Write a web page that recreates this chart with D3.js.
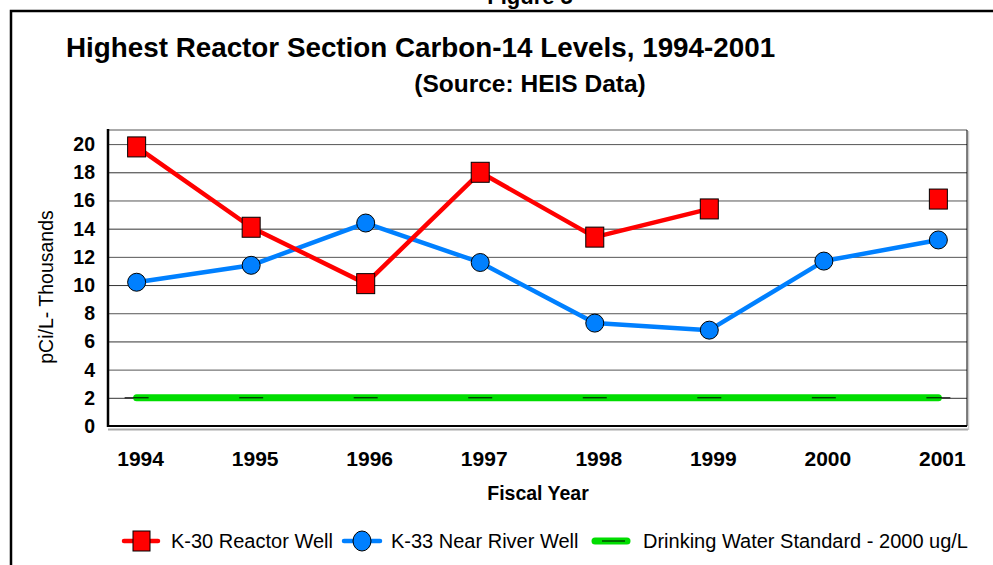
<!DOCTYPE html>
<html>
<head>
<meta charset="utf-8">
<script src="https://cdn.jsdelivr.net/npm/d3@7"></script>
<style>
  body { margin: 0; background: #fff; }
  svg { display: block; font-family: Arial, "Liberation Sans", sans-serif; }
</style>
</head>
<body>
<svg width="993" height="565"></svg>
<script>
// values, thousands of pCi/L
const years = ['1994', '1995', '1996', '1997', '1998', '1999', '2000', '2001'];
const k30 = [19.8, 14.1, 10.1, 18.0, 13.4, 15.4, null, 16.1];
const k33 = [10.2, 11.4, 14.4, 11.6, 7.3, 6.8, 11.7, 13.2];
const standard = [2, 2, 2, 2, 2, 2, 2, 2];
const yTicks = [0, 2, 4, 6, 8, 10, 12, 14, 16, 18, 20];

const width = 993;
const height = 565;
const plotLeft = 108, plotRight = 967, plotTop = 130, plotBottom = 426;

const svg = d3.select('svg');

const xScale = d3.scalePoint()
                    .domain(years)
                    .range([plotLeft, plotRight])
                    .padding(0.25)
const yScale = d3.scaleLinear()
                    .domain([0, 21])
                    .range([plotBottom, plotTop])

// outer frame and the cut-off caption above it
svg.append('text')
    .attr('x', 530)
    .attr('y', 4)
    .attr('font-size', '22px')
    .attr('font-weight', 'bold')
    .style('text-anchor', 'middle')
    .text('Figure 5')

svg.append('path')
    .attr('d', 'M11,' + (height + 5) + ' L11,11 L' + (width + 5) + ',11')
    .attr('fill', 'none')
    .attr('stroke', '#000')
    .attr('stroke-width', 2.5)

svg.append('text')
    .attr('x', 66)
    .attr('y', 57)
    .attr('font-size', '27.8px')
    .attr('font-weight', 'bold')
    .text('Highest Reactor Section Carbon-14 Levels, 1994-2001')

svg.append('text')
    .attr('x', 530)
    .attr('y', 92)
    .attr('font-size', '24.5px')
    .attr('font-weight', 'bold')
    .style('text-anchor', 'middle')
    .text('(Source: HEIS Data)')

// shadow of the plot box
svg.append('line')
    .attr('x1', plotLeft).attr('x2', plotRight + 1)
    .attr('y1', plotBottom + 3.5).attr('y2', plotBottom + 3.5)
    .attr('stroke', '#aaa').attr('stroke-width', 2)
svg.append('line')
    .attr('x1', plotRight + 1.5).attr('x2', plotRight + 1.5)
    .attr('y1', plotTop + 1).attr('y2', plotBottom + 4)
    .attr('stroke', '#ccc').attr('stroke-width', 1.5)

// gridlines
const yAxis = d3.axisLeft(yScale)
                    .tickValues(yTicks.filter(d => d > 0))
                    .tickSize(-(plotRight - plotLeft))
                    .tickFormat('')
const grid = svg.append('g')
    .attr('transform', 'translate(' + plotLeft + ',0)')
    .call(yAxis)
grid.select('.domain').remove()
grid.selectAll('.tick line')
    .attr('stroke', (d, i) => i % 2 ? '#555' : '#333')

svg.append('line')
    .attr('x1', plotLeft).attr('x2', plotRight)
    .attr('y1', plotTop).attr('y2', plotTop)
    .attr('stroke', '#555')
svg.append('line')
    .attr('x1', plotRight).attr('x2', plotRight)
    .attr('y1', plotTop).attr('y2', plotBottom)
    .attr('stroke', '#000')
svg.append('line')
    .attr('x1', plotLeft).attr('x2', plotRight)
    .attr('y1', plotBottom).attr('y2', plotBottom)
    .attr('stroke', '#000').attr('stroke-width', 2)
svg.append('line')
    .attr('x1', plotLeft).attr('x2', plotLeft)
    .attr('y1', plotTop - 1).attr('y2', plotBottom + 1)
    .attr('stroke', '#000').attr('stroke-width', 2.5)

// tick labels
svg.append('g')
    .selectAll('text')
    .data(yTicks)
    .enter()
    .append('text')
        .attr('x', 95)
        .attr('y', d => yScale(d) + 7)
        .attr('font-size', '19.5px')
        .attr('font-weight', 'bold')
        .style('text-anchor', 'end')
        .text(d => d)

svg.append('g')
    .selectAll('text')
    .data(years)
    .enter()
    .append('text')
        .attr('x', d => xScale(d) + 4)
        .attr('y', 466)
        .attr('font-size', '21px')
        .attr('font-weight', 'bold')
        .style('text-anchor', 'middle')
        .text(d => d)

svg.append('text')
    .attr('x', 538)
    .attr('y', 500)
    .attr('font-size', '19.5px')
    .attr('font-weight', 'bold')
    .style('text-anchor', 'middle')
    .text('Fiscal Year')

svg.append('text')
    .attr('transform', 'rotate(-90)')
    .attr('x', -287)
    .attr('y', 53)
    .attr('font-size', '19.5px')
    .style('text-anchor', 'middle')
    .text('pCi/L- Thousands')

// series
const green = '#00dd00';
const red = '#ff0000';
const blue = '#0080ff';

const line = d3.line()
                .defined(d => d.v !== null)
                .x(d => xScale(d.year))
                .y(d => yScale(d.v))
const rows = arr => years.map((y, i) => ({ year: y, v: arr[i] }))

svg.append('path')
    .datum(rows(standard))
    .attr('d', line)
    .attr('fill', 'none')
    .attr('stroke', green)
    .attr('stroke-width', 7)
    .attr('stroke-linecap', 'round')
svg.append('g')
    .selectAll('line')
    .data(rows(standard))
    .enter()
    .append('line')
        .attr('x1', d => xScale(d.year) - 12)
        .attr('x2', d => xScale(d.year) + 12)
        .attr('y1', d => yScale(d.v))
        .attr('y2', d => yScale(d.v))
        .attr('stroke', '#000')

svg.append('path')
    .datum(rows(k33))
    .attr('d', line)
    .attr('fill', 'none')
    .attr('stroke', blue)
    .attr('stroke-width', 4.5)
    .attr('stroke-linejoin', 'round')

svg.append('path')
    .datum(rows(k30))
    .attr('d', line)
    .attr('fill', 'none')
    .attr('stroke', red)
    .attr('stroke-width', 4.5)
    .attr('stroke-linejoin', 'round')

svg.append('g')
    .selectAll('circle')
    .data(rows(k33))
    .enter()
    .append('circle')
        .attr('cx', d => xScale(d.year))
        .attr('cy', d => yScale(d.v))
        .attr('r', 9)
        .attr('fill', blue)
        .attr('stroke', '#000')

svg.append('g')
    .selectAll('rect')
    .data(rows(k30).filter(d => d.v !== null))
    .enter()
    .append('rect')
        .attr('x', d => xScale(d.year) - 9)
        .attr('y', d => yScale(d.v) - 10)
        .attr('width', 18)
        .attr('height', 20)
        .attr('fill', red)
        .attr('stroke', '#000')

// legend
const ly = 541;
const legend = svg.append('g')

legend.append('line')
    .attr('x1', 124).attr('x2', 158).attr('y1', ly).attr('y2', ly)
    .attr('stroke', red).attr('stroke-width', 4.5).attr('stroke-linecap', 'round')
legend.append('rect')
    .attr('x', 133).attr('y', ly - 10).attr('width', 17).attr('height', 20)
    .attr('fill', red).attr('stroke', '#000')
legend.append('text')
    .attr('x', 171).attr('y', ly + 7)
    .attr('font-size', '20px')
    .text('K-30 Reactor Well')

legend.append('line')
    .attr('x1', 344).attr('x2', 380).attr('y1', ly).attr('y2', ly)
    .attr('stroke', blue).attr('stroke-width', 4.5).attr('stroke-linecap', 'round')
legend.append('ellipse')
    .attr('cx', 362).attr('cy', ly).attr('rx', 9).attr('ry', 10)
    .attr('fill', blue).attr('stroke', '#000')
legend.append('text')
    .attr('x', 391).attr('y', ly + 7)
    .attr('font-size', '20px')
    .text('K-33 Near River Well')

legend.append('line')
    .attr('x1', 595).attr('x2', 627).attr('y1', ly).attr('y2', ly)
    .attr('stroke', green).attr('stroke-width', 7).attr('stroke-linecap', 'round')
legend.append('line')
    .attr('x1', 602).attr('x2', 625).attr('y1', ly).attr('y2', ly)
    .attr('stroke', '#000')
legend.append('text')
    .attr('x', 643).attr('y', ly + 7)
    .attr('font-size', '20px')
    .text('Drinking Water Standard - 2000 ug/L')
</script>
</body>
</html>
